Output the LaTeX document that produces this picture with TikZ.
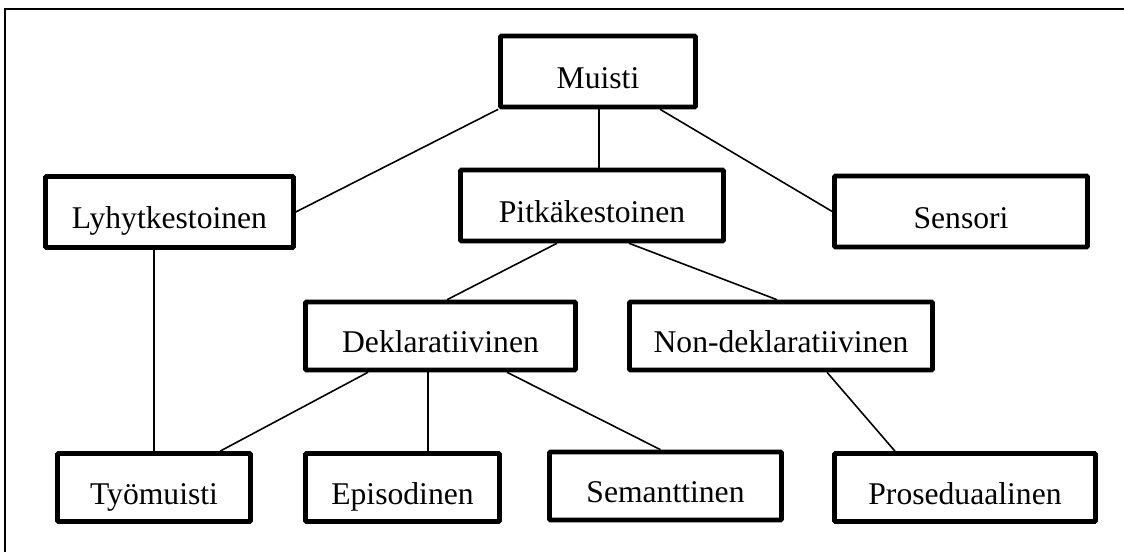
\documentclass[tikz,border=0pt]{standalone}
\usepackage{fontspec}
\setmainfont{Liberation Serif}
\usepackage{tikz}
\usetikzlibrary{positioning}

\tikzset{
  box/.style={draw, line width=2.6pt, rounded corners=0.5pt, font=\fontsize{18}{21}\selectfont,
    text height=0.88cm, text depth=0.2cm, minimum height=1.42cm, inner sep=0pt},
  lowbox/.style={box, minimum height=1.36cm},
  link/.style={line width=0.9pt}
}

\begin{document}
\begin{tikzpicture}
      \useasboundingbox (0,0) rectangle (22.48,-11.04);
      \draw[line width=1pt] (0.1,-11.2) |- (22.6,-0.18);

      \node[box, minimum width=3.9cm] (muisti) at (11.96,-1.43) {Muisti};
      \node[box, minimum width=4.96cm] (lyhyt) at (3.39,-4.24) {Lyhytkestoinen};
      \node[box, minimum width=5.26cm] (pitka) at (11.84,-4.11) {Pitkäkestoinen};
      \node[box, minimum width=5.06cm] (sensori) at (19.22,-4.23) {Sensori};

      \node[lowbox, minimum width=5.4cm] (dekl) at (8.81,-6.72) {Deklaratiivinen};
      \node[lowbox, minimum width=6.06cm] (nondekl) at (15.62,-6.72) {Non-deklaratiivinen};

      \node[lowbox, minimum width=3.86cm] (tyomuisti) at (3.08,-9.75) {Työmuisti};
      \node[lowbox, minimum width=3.88cm] (episod) at (8.05,-9.75) {Episodinen};
      \node[lowbox, minimum width=4.64cm] (semant) at (13.31,-9.72) {Semanttinen};
      \node[lowbox, minimum width=5.22cm] (prosed) at (19.30,-9.75) {Proseduaalinen};

      \draw[link] (muisti.south west) -- (lyhyt.east);
      \draw[link] ([xshift=0.02cm]muisti.south) -- ([xshift=0.02cm]muisti.south |- pitka.north);
      \draw[link] ([xshift=1.24cm]muisti.south) -- (sensori.west);

      \draw[link] (tyomuisti.north |- lyhyt.south) -- (tyomuisti.north);

      \draw[link] ([xshift=-0.7cm]pitka.south) -- ([xshift=0.13cm]dekl.north);
      \draw[link] ([xshift=0.74cm]pitka.south) -- ([xshift=-0.08cm]nondekl.north);

      \draw[link] ([xshift=-1.45cm]dekl.south) -- ([xshift=1.32cm]tyomuisti.north);
      \draw[link] ([xshift=-0.25cm]dekl.south) -- ([xshift=-0.25cm]dekl.south |- episod.north);
      \draw[link] ([xshift=1.33cm]dekl.south) -- ([xshift=-0.1cm]semant.north);

      \draw[link] ([xshift=0.92cm]nondekl.south) -- ([xshift=-1.4cm]prosed.north);
    \end{tikzpicture}
\end{document}
